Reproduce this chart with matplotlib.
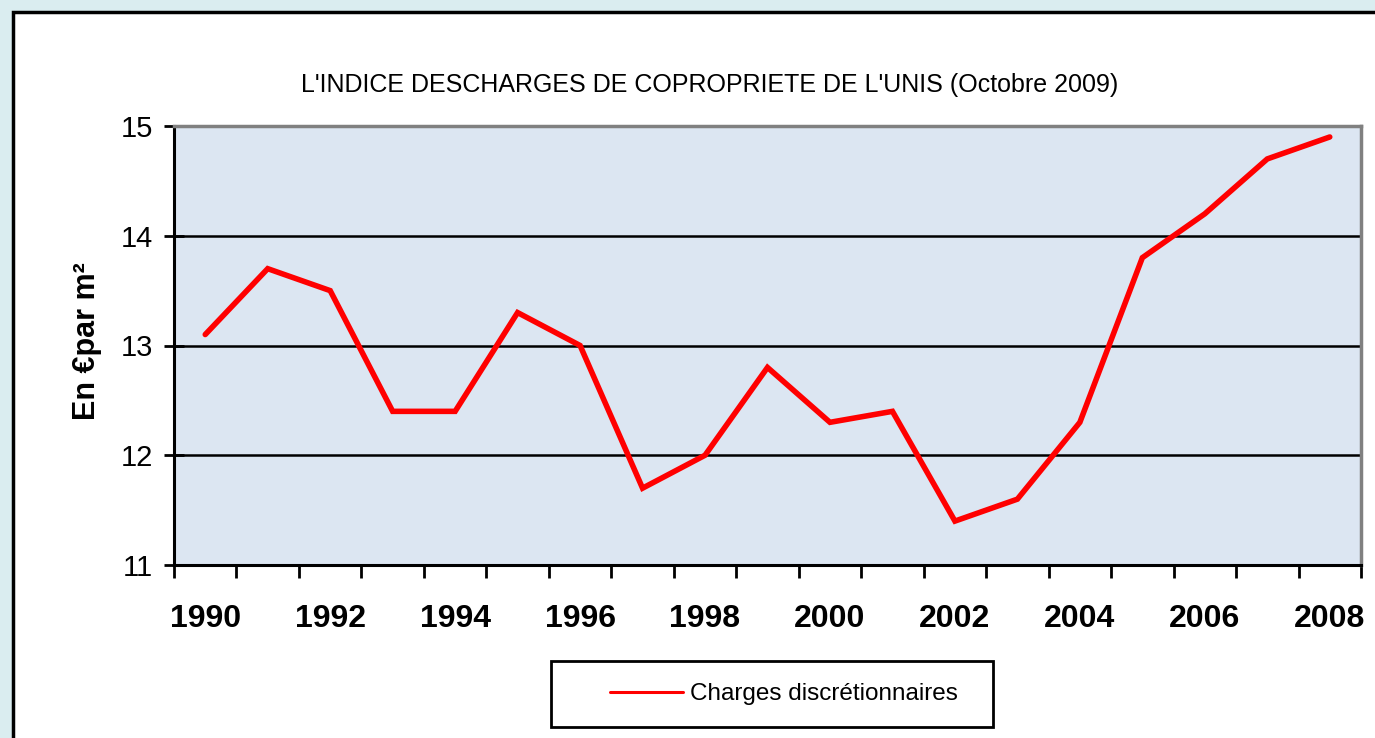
import matplotlib
matplotlib.use("Agg")
import matplotlib.pyplot as plt
from matplotlib.patches import Rectangle

years = list(range(1990, 2009))
charges = [13.1, 13.7, 13.5, 12.4, 12.4, 13.3, 13.0, 11.7, 12.0, 12.8,
           12.3, 12.4, 11.4, 11.6, 12.3, 13.8, 14.2, 14.7, 14.9]
year_labels = [str(y) for y in years[::2]]
y_ticks = [11, 12, 13, 14, 15]

narrow = ["Liberation Sans Narrow", "Liberation Sans", "DejaVu Sans"]
bold_font = ["Liberation Sans", "DejaVu Sans"]

fig = plt.figure(figsize=(13.75, 7.38), dpi=100)
fig.patch.set_facecolor("#daedf0")

# white chart box, runs off the right and bottom edges
fig.patches.append(Rectangle((13 / 1375, -0.1), 1.2, 1 - 12 / 738 + 0.1,
                             transform=fig.transFigure, facecolor="white",
                             edgecolor="black", linewidth=2.5, zorder=-5))

ax = fig.add_axes([174 / 1375, 1 - 565 / 738, (1361 - 174) / 1375, (565 - 126) / 738])
ax.set_zorder(2)
ax.set_facecolor("#dce6f2")

x = list(range(len(years)))
line, = ax.plot(x, charges, color="#ff0000", linewidth=4,
                solid_capstyle="round", solid_joinstyle="miter",
                label="Charges discrétionnaires", zorder=3)

ax.set_xlim(-0.5, len(years) - 0.5)
ax.set_ylim(11, 15)

# category boundaries get tick marks, labels sit between them
ax.set_xticks([i - 0.5 for i in range(len(years) + 1)])
ax.set_xticklabels([])
ax.set_xticks(x[::2], minor=True)
ax.set_xticklabels(year_labels, minor=True, family=bold_font,
                   fontsize=23, fontweight="bold")
ax.tick_params(axis="x", which="major", direction="out", length=9, width=2)
ax.tick_params(axis="x", which="minor", length=0, pad=28)

ax.set_yticks(y_ticks)
ax.set_yticklabels([str(v) for v in y_ticks], family=narrow, fontsize=21)
ax.tick_params(axis="y", direction="inout", length=14, width=2, pad=8)

ax.grid(axis="y", color="black", linewidth=1.8)
ax.set_axisbelow(True)

for side in ["left", "bottom"]:
    ax.spines[side].set_color("black")
    ax.spines[side].set_linewidth(2.2)
for side in ["top", "right"]:
    ax.spines[side].set_color("#808080")
    ax.spines[side].set_linewidth(2.5)

ax.set_ylabel("En €par m²", family=bold_font, fontsize=22, fontweight="bold")
ax.yaxis.set_label_coords(-0.061, 0.51)

fig.text(710 / 1375, 1 - 85 / 738,
         "L'INDICE DESCHARGES DE COPROPRIETE DE L'UNIS (Octobre 2009)",
         family=narrow, fontsize=18, ha="center", va="center")

# legend box
fig.patches.append(Rectangle((551 / 1375, 1 - 727 / 738), 442 / 1375, 66 / 738,
                             transform=fig.transFigure, facecolor="white",
                             edgecolor="black", linewidth=2, zorder=1))
leg = fig.legend(handles=[line], loc="center left",
                 bbox_to_anchor=(610 / 1375, 1 - 694 / 738),
                 frameon=False, prop={"family": narrow, "size": 17.5},
                 borderpad=0, borderaxespad=0,
                 handlelength=3.0, handletextpad=0.3)
leg.set_zorder(3)
leg.get_lines()[0].set_linewidth(2.2)

fig.savefig("out.png", dpi=100, facecolor=fig.get_facecolor())
